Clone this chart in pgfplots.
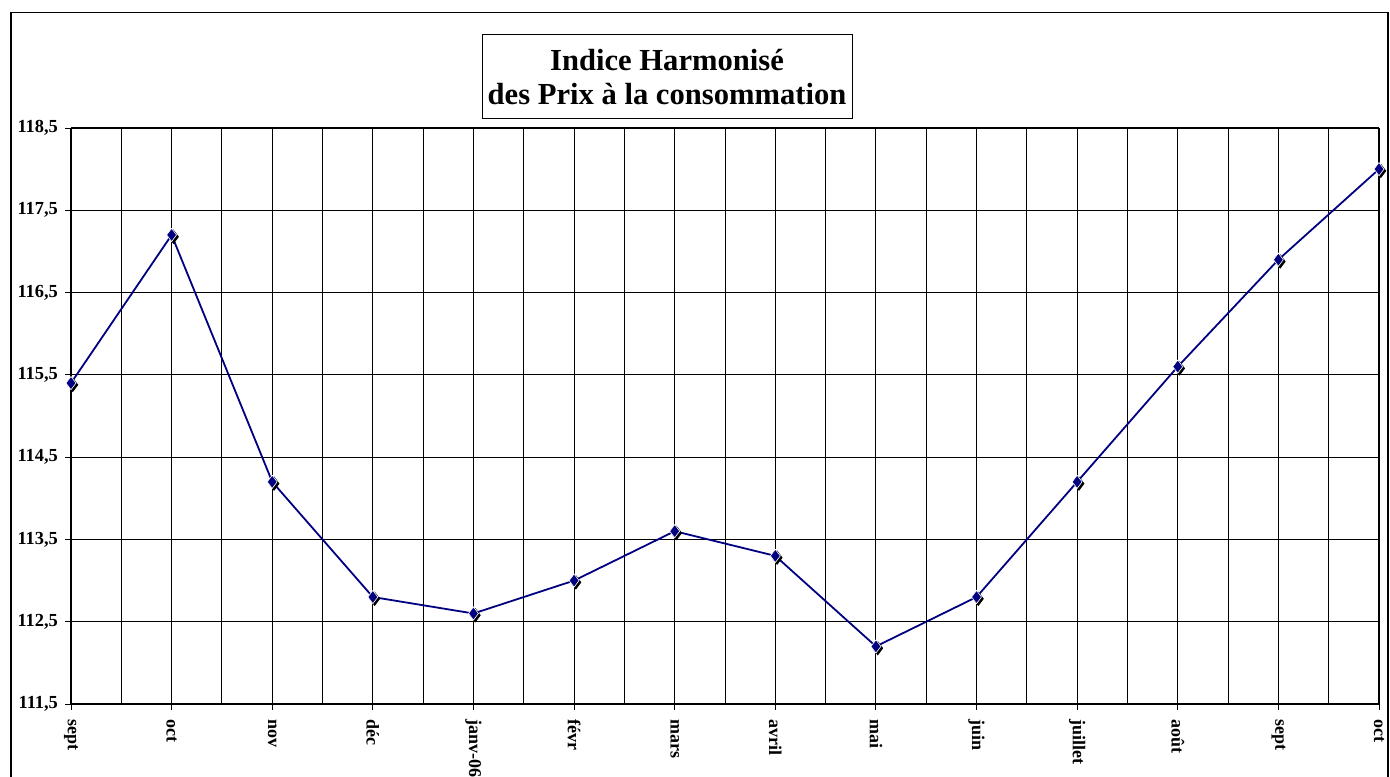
\documentclass[border=0pt]{standalone}
\usepackage{pgfplots}
\pgfplotsset{compat=1.18}
\usepackage{fontspec}
\setmainfont{Liberation Serif}
\definecolor{serie}{RGB}{0,0,128}

\pgfplotstableread{
idx val
0  115.4
1  117.2
2  114.2
3  112.8
4  112.6
5  113.0
6  113.6
7  113.3
8  112.2
9  112.8
10 114.2
11 115.6
12 116.9
13 118.0
}\ihpc

\begin{document}
\begin{tikzpicture}
% page = 1390 x 776 px at 0.5pt per px
\path[use as bounding box] (0,0) rectangle (695pt,388pt);
\draw[line width=0.8pt] (5.5pt,-2pt) -- (5.5pt,381.75pt) -- (694pt,381.75pt) -- (694pt,-2pt);

\begin{axis}[
    at={(35.5pt,36pt)}, anchor=south west,
    scale only axis,
    width=654pt, height=288pt,
    xmin=0, xmax=13, ymin=111.5, ymax=118.5,
    xtick=data,
    xticklabels={sept,oct,nov,déc,janv-06,févr,mars,avril,mai,juin,juillet,août,sept,oct},
    xticklabel style={rotate=-90, anchor=west, font=\bfseries\fontsize{9}{10}\selectfont, xshift=1pt},
    ytick={111.5,112.5,...,118.5},
    yticklabel style={font=\bfseries\fontsize{9.2}{10}\selectfont},
    /pgf/number format/assume math mode=true,
    /pgf/number format/.cd, fixed, fixed zerofill, precision=1, use comma, 1000 sep={},
    /pgfplots/.cd,
    xtick pos=bottom, ytick pos=left,
    minor x tick num=1,
    minor tick length=0pt,
    major tick length=3pt,
    tick align=outside,
    tick style={black, line width=0.5pt},
    xmajorgrids, xminorgrids, ymajorgrids,
    grid style={black, line width=0.5pt},
    minor grid style={black, line width=0.5pt},
    axis line style={black, line width=0.5pt},
    separate axis lines,
    x axis line style={line width=1pt},
    y axis line style={line width=1pt},
    clip=false,
]
% shadow of the markers
\addplot[only marks, mark=diamond*, mark size=3.3pt, black,
    mark options={xshift=0.9pt, yshift=-0.9pt}] table[x=idx, y=val] {\ihpc};
\addplot[serie, line width=0.9pt, mark=diamond*, mark size=3.3pt,
    mark options={fill=serie, draw=white, line width=0.3pt}] table[x=idx, y=val] {\ihpc};
\end{axis}

\node[draw=black, line width=0.5pt, fill=white, minimum width=185pt, minimum height=42pt,
      align=center, font=\bfseries\fontsize{15.3}{17}\selectfont, inner sep=0pt]
      at (333.5pt,349.5pt) {Indice Harmonisé\\des Prix à la consommation};
\end{tikzpicture}
\end{document}
